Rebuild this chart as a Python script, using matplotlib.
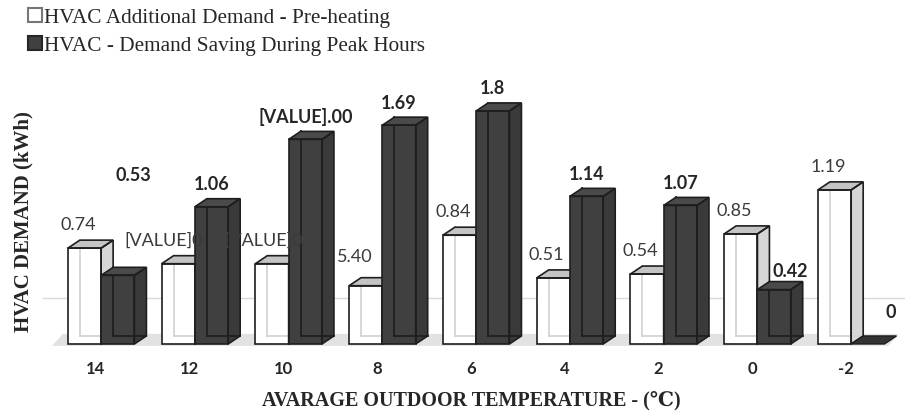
import matplotlib
matplotlib.use('Agg')
import matplotlib.pyplot as plt
from matplotlib.patches import Polygon, Rectangle, Patch

# data (kWh) per average outdoor temperature
temps = ['14', '12', '10', '8', '6', '4', '2', '0', '-2']
preheat = [0.74, 0.62, 0.62, 0.45, 0.84, 0.51, 0.54, 0.85, 1.19]
saving = [0.53, 1.06, 1.58, 1.69, 1.8, 1.14, 1.07, 0.42, 0.0]
preheat_labels = ['0.74', '[VALUE]0', '[VALUE]0', '5.40', '0.84', '0.51', '0.54', '0.85', '1.19']
saving_labels = ['0.53', '1.06', '[VALUE].00', '1.69', '1.8', '1.14', '1.07', '0.42', '0']

legend_names = ['HVAC Additional Demand - Pre-heating',
                'HVAC - Demand Saving During Peak Hours']

W, H = 909, 419
fig = plt.figure(figsize=(W / 100, H / 100), dpi=100)
ax = fig.add_axes([40 / W, 1 - 352 / H, 865 / W, 272 / H])
ax.set_xlim(-0.597, 8.629)
ax.set_ylim(-0.062, 2.039)
for s in ax.spines.values():
    s.set_visible(False)
ax.set_yticks([])

# pseudo-3D depth of each column
dx, dy = 0.128, 0.062
bw = 0.355
edge = '#1e1e1e'


def column(x0, h, front, top, side, inner, z):
    ax.add_patch(Rectangle((x0, 0), bw, h, facecolor=front, edgecolor='none', zorder=z))
    ax.add_patch(Polygon([(x0 + bw, 0), (x0 + bw + dx, dy), (x0 + bw + dx, h + dy), (x0 + bw, h)],
                         closed=True, facecolor=side, edgecolor='none', zorder=z))
    # hidden back edges showing through
    ax.plot([x0 + dx, x0 + dx], [dy, h + dy], color=inner, lw=1.3, zorder=z + 0.1)
    ax.plot([x0 + dx, x0 + bw + dx], [dy, dy], color=inner, lw=1.3, zorder=z + 0.1)
    ax.add_patch(Polygon([(x0, h), (x0 + bw, h), (x0 + bw + dx, h + dy), (x0 + dx, h + dy)],
                         closed=True, facecolor=top, edgecolor=edge, lw=1.2, zorder=z + 0.2))
    ax.add_patch(Polygon([(x0 + bw, 0), (x0 + bw + dx, dy), (x0 + bw + dx, h + dy), (x0 + bw, h)],
                         closed=True, facecolor='none', edgecolor=edge, lw=1.2, zorder=z + 0.2))
    ax.add_patch(Rectangle((x0, 0), bw, h, facecolor='none', edgecolor=edge, lw=1.2, zorder=z + 0.3))


def flat(x0, front):
    ax.add_patch(Polygon([(x0, 0), (x0 + bw, 0), (x0 + bw + dx, dy), (x0 + dx, dy)],
                         closed=True, facecolor=front, edgecolor=edge, lw=1.0, zorder=40))


# floor and back-wall gridline
fdx, fdy = 0.117, 0.093
ax.add_patch(Polygon([(-0.47, -0.015), (8.45, -0.015), (8.45 + fdx, -0.015 + fdy), (-0.47 + fdx, -0.015 + fdy)],
                     closed=True, facecolor='#e2e2e2', edgecolor='none', zorder=0))
ax.plot([-0.565, 8.63], [0.355, 0.355], color='#d9d9d9', lw=1.0, zorder=0.5)

# hand-moved data labels (x, y shifts)
white_nudge = {1: (-0.09, 0), 2: (-0.02, 0), 3: (-0.05, 0.04)}
dark_nudge = {0: (0.17, 0.60), 7: (0.17, -0.03), 8: (0.245, 0.07)}

x = list(range(len(temps)))
for i in x:
    x_white = i - 0.30
    x_dark = x_white + bw
    column(x_white, preheat[i], '#ffffff', '#c4c4c4', '#d6d6d6', '#d4d4d4', 2 + 2 * i)
    if saving[i] > 0:
        column(x_dark, saving[i], '#404040', '#4a4a4a', '#3a3a3a', '#1f1f1f', 3 + 2 * i)
    else:
        flat(x_dark, '#333333')

    nx, ny = white_nudge.get(i, (0, 0))
    ax.text(x_white + bw / 2 - 0.07 + nx, preheat[i] + 0.178 + ny, preheat_labels[i],
            ha='center', va='center', fontsize=13, family='Lato', color='#3a3a3a', zorder=50)

    nx, ny = dark_nudge.get(i, (0, 0))
    ax.text(x_dark + bw / 2 + nx, saving[i] + 0.17 + ny, saving_labels[i], ha='center', va='center',
            fontsize=13, family='Lato', fontweight='bold', color='#262626', zorder=50)

ax.set_xticks(x)
ax.set_xticklabels(temps, fontsize=12, family='Lato', fontweight='bold', color='#262626')
ax.tick_params(axis='x', length=0, pad=6.5)

serif = ['Liberation Serif', 'DejaVu Serif']
fig.text(471 / W, 1 - 400 / H, 'AVARAGE OUTDOOR TEMPERATURE - (\u2103)', ha='center', va='center',
         fontsize=14.5, fontweight='bold', family=serif, color='#262626')
fig.text(23 / W, 1 - 222 / H, 'HVAC DEMAND (kWh)', ha='center', va='center', rotation=90,
         fontsize=15, fontweight='bold', family=serif, color='#262626')

handles = [Patch(facecolor='#ffffff', edgecolor='#777777', lw=1.5),
           Patch(facecolor='#404040', edgecolor='#262626', lw=1.5)]
fig.legend(handles, legend_names, loc='upper left', bbox_to_anchor=(9 / W, 1 + 11 / H),
           frameon=False, handlelength=0.65, handleheight=0.65, handletextpad=0.1,
           labelspacing=0.4, prop={'family': serif, 'size': 15.3}, labelcolor='#262626')

fig.savefig('out.png', dpi=100)
